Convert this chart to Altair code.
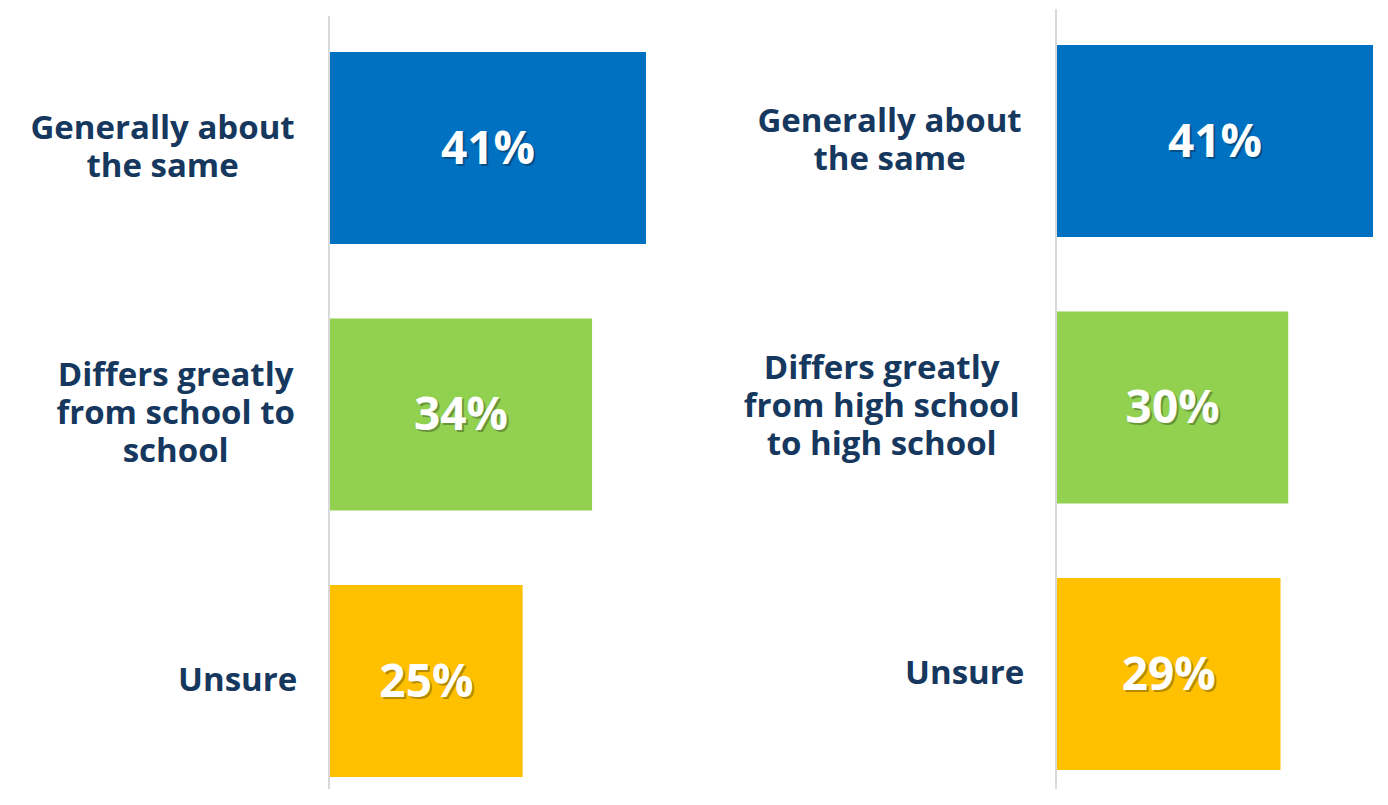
import altair as alt
import pandas as pd

# ---- data ----
keys = ["same", "differs", "unsure"]
labels_left = ["Generally about\nthe same", "Differs greatly\nfrom school to\nschool", "Unsure"]
values_left = [41, 34, 25]
labels_right = ["Generally about\nthe same", "Differs greatly\nfrom high school\nto high school", "Unsure"]
values_right = [41, 30, 29]
colors = ["#0070C0", "#92D050", "#FFC000"]

# ---- style ----
FONT = "Open Sans"
NAVY = "#16385E"
LABEL_SIZE = 33
LINE_H = 38
VALUE_SIZE = 46
W, H = 316, 780
EXT = 322
GAP = 32
UNIT = 21.0  # px per weighted character, used to centre multi-line label blocks


def char_w(c):
    if c in "iljftr":
        return 0.55
    if c == " ":
        return 0.5
    if c in "mw":
        return 1.45
    if c.isupper():
        return 1.2
    return 1.0


def est_width(label):
    return max(sum(char_w(c) for c in line) for line in label.split("\n")) * UNIT


def make_df(labels, values):
    return pd.DataFrame({
        "key": keys,
        "label": labels,
        "value": values,
        "mid": [v / 2 for v in values],
        "vlabel": [f"{v}%" for v in values],
        "lx": [-(GAP + est_width(l) / 2) for l in labels],
        "ldy": [-(len(l.split("\n")) - 1) / 2 * LINE_H for l in labels],
    })


def panel(df, y_range, rule_top):
    base = alt.Chart(df).encode(
        y=alt.Y("key:N", sort=keys,
                scale=alt.Scale(domain=keys, range=y_range, paddingInner=0.28, paddingOuter=0.14),
                axis=alt.Axis(labels=False, ticks=False, domain=False, grid=False, title=None,
                              minExtent=EXT, maxExtent=EXT))
    )
    xscale = alt.Scale(domain=[0, 41], nice=False, zero=True)
    bars = base.mark_bar().encode(
        x=alt.X("value:Q", scale=xscale, axis=None),
        color=alt.Color("key:N", scale=alt.Scale(domain=keys, range=colors), legend=None),
    )
    shadow = base.mark_text(font=FONT, fontSize=VALUE_SIZE, fontWeight="bold", color="#000000",
                            opacity=0.28, dx=2, dy=4, baseline="middle").encode(
        x=alt.X("mid:Q", scale=xscale, axis=None), text="vlabel:N")
    vtext = base.mark_text(font=FONT, fontSize=VALUE_SIZE, fontWeight="bold", color="#FFFFFF",
                           baseline="middle", dy=2).encode(
        x=alt.X("mid:Q", scale=xscale, axis=None), text="vlabel:N")
    ctext = base.mark_text(font=FONT, fontSize=LABEL_SIZE, fontWeight="bold", color=NAVY,
                           align="center", baseline="middle", lineBreak="\n", lineHeight=LINE_H,
                           dy=alt.ExprRef(expr="datum.ldy")).encode(
        x=alt.X("lx:Q", scale=None, axis=None), text="label:N")
    rule = alt.Chart(pd.DataFrame({"k": [0]})).mark_rule(color="#D9D9D9", strokeWidth=2).encode(
        x=alt.value(-1), y=alt.value(rule_top), y2=alt.value(H))
    return alt.layer(rule, bars, shadow, vtext, ctext).properties(width=W, height=H)


left = panel(make_df(labels_left, values_left), [5.7, 805.2], 7)
right = panel(make_df(labels_right, values_right), [-1.3, 798.2], 0)

chart = alt.hconcat(left, right, spacing=89).properties(padding=0).configure_view(stroke=None)
chart.save("out.html", embed_options={"renderer": "svg", "actions": False})
